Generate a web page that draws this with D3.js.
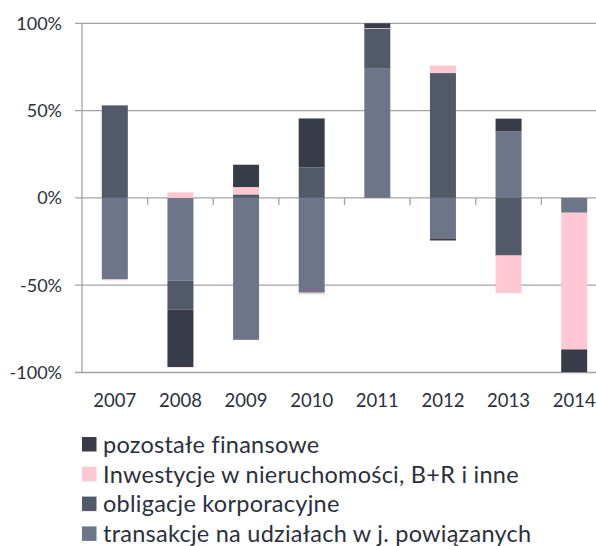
<!doctype html>
<html>
<head>
<style>
    body { margin: 0; background: #fff; }
    text { font-family: Lato, "Open Sans", sans-serif; fill: #2b303c; }
</style>
<script src="https://d3js.org/d3.v7.min.js"></script>
</head>
<body>

    <svg id="chart" width="596" height="546"></svg>

    <script>

        // Data (percent)
        var years = ["2007", "2008", "2009", "2010", "2011", "2012", "2013", "2014"];
        var transakcje = [-46.7, -47.3, -81.3, -54.3, 74, -23.2, 38.1, -8.5];
        var obligacje  = [53, -16.6, 2, 17.5, 23, 71.5, -33, 0];
        var inwestycje = [-0.5, 3.2, 4.2, -0.8, 0.3, 4.3, -21.5, -78.3];
        var pozostale  = [0, -33, 12.8, 28, 2.7, -1.2, 7.3, -13];

        var yTicks = [-100, -50, 0, 50, 100];

        var seriesNames = ["pozostałe finansowe", "Inwestycje w nieruchomości, B+R i inne", "obligacje korporacyjne", "transakcje na udziałach w j. powiązanych"];
        var seriesColors = ["#383c48", "#ffc8d2", "#525a69", "#6d7689"];

        // stacking order from the zero line outward
        var keys = ["transakcje", "obligacje", "inwestycje", "pozostale"];
        var colorOf = { transakcje: "#6d7689", obligacje: "#525a69", inwestycje: "#ffc8d2", pozostale: "#383c48" };

        var table = years.map(function (y, i) {
          return { year: y, transakcje: transakcje[i], obligacje: obligacje[i], inwestycje: inwestycje[i], pozostale: pozostale[i] };
        });

        var svg = d3.select("#chart");

        var x = d3.scaleBand().domain(years).range([82, 607]);
        var y = d3.scaleLinear().domain([-100, 100]).range([372.5, 23.3]);

        // gridlines
        svg.append("g")
          .selectAll("line")
          .data(yTicks)
          .enter()
          .append("line")
            .attr("x1", 75).attr("x2", 607)
            .attr("y1", function (d) { return y(d); })
            .attr("y2", function (d) { return y(d); })
            .attr("stroke", "#a3a3a6")
            .attr("stroke-width", 1.3);

        // y tick labels
        svg.append("g")
          .selectAll("text")
          .data(yTicks)
          .enter()
          .append("text")
            .attr("x", 62)
            .attr("y", function (d) { return y(d); })
            .attr("dy", "0.36em")
            .attr("text-anchor", "end")
            .style("font-size", "18px")
            .text(function (d) { return d + "%"; });

        // stacked bars
        var stack = d3.stack().keys(keys).offset(d3.stackOffsetDiverging);
        var layers = stack(table);
        var barW = 26;

        svg.append("g")
          .selectAll("g")
          .data(layers)
          .enter()
          .append("g")
            .attr("fill", function (d) { return colorOf[d.key]; })
          .selectAll("rect")
          .data(function (d) { return d; })
          .enter()
          .append("rect")
            .attr("x", function (d) { return x(d.data.year) + x.bandwidth() / 2 - barW / 2; })
            .attr("width", barW)
            .attr("y", function (d) { return y(Math.max(d[0], d[1])); })
            .attr("height", function (d) { return Math.abs(y(d[0]) - y(d[1])); });

        // left axis line
        svg.append("line")
          .attr("x1", 82).attr("x2", 82)
          .attr("y1", y(100)).attr("y2", y(-100))
          .attr("stroke", "#a3a3a6")
          .attr("stroke-width", 1.3);

        // category ticks on the zero line
        svg.append("g")
          .selectAll("line")
          .data(years.slice(1))
          .enter()
          .append("line")
            .attr("x1", function (d) { return x(d); })
            .attr("x2", function (d) { return x(d); })
            .attr("y1", y(0)).attr("y2", y(0) + 7)
            .attr("stroke", "#a3a3a6")
            .attr("stroke-width", 1.3);

        // year labels
        svg.append("g")
          .selectAll("text")
          .data(years)
          .enter()
          .append("text")
            .attr("x", function (d) { return x(d) + x.bandwidth() / 2; })
            .attr("y", 407)
            .attr("text-anchor", "middle")
            .style("font-size", "18.5px")
            .text(function (d) { return d; });

        // legend
        var legend = svg.append("g")
          .selectAll("g")
          .data(seriesNames)
          .enter()
          .append("g")
            .attr("transform", function (d, i) { return "translate(82," + (437 + i * 29.8) + ")"; });

        legend.append("rect")
          .attr("width", 14.5)
          .attr("height", 14.5)
          .attr("fill", function (d, i) { return seriesColors[i]; });

        legend.append("text")
          .attr("x", 21)
          .attr("y", 7.3)
          .attr("dy", "0.36em")
          .style("font-size", "23.5px")
          .style("letter-spacing", "0.25px")
          .text(function (d) { return d; });

    </script>

</body>
</html>
